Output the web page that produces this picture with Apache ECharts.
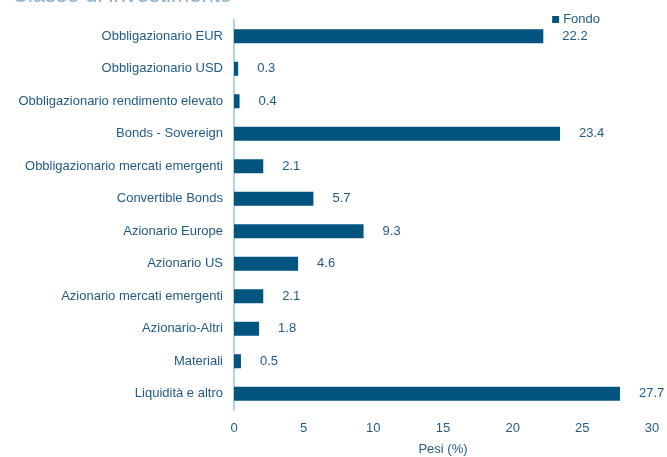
<!DOCTYPE html>
<html><head><meta charset="utf-8">
<script src="https://cdn.jsdelivr.net/npm/echarts@6/dist/echarts.min.js"></script>
<style>html,body{margin:0;padding:0;background:#fff;}#c{width:667px;height:457px;}</style>
</head><body><div id="c"></div>
<script>
const categories = ["Obbligazionario EUR","Obbligazionario USD","Obbligazionario rendimento elevato","Bonds - Sovereign","Obbligazionario mercati emergenti","Convertible Bonds","Azionario Europe","Azionario US","Azionario mercati emergenti","Azionario-Altri","Materiali","Liquidità e altro"];
const fondo = [22.2,0.3,0.4,23.4,2.1,5.7,9.3,4.6,2.1,1.8,0.5,27.7];
const seriesName = "Fondo";
const xTicks = [0,5,10,15,20,25,30];

const txt = '#1f5a87';
const font = 'Liberation Sans, Arial, sans-serif';
const chart = echarts.init(document.getElementById('c'));
chart.setOption({
  animation:false,
  title:{text:'Classe di investimento',left:12,top:-15,padding:0,textStyle:{fontFamily:font,fontSize:22,fontWeight:'normal',color:'#8fb2cc'}},
  legend:{data:[seriesName],right:62,top:8,itemWidth:7,itemHeight:7,itemGap:4,icon:'rect',
    textStyle:{fontFamily:font,fontSize:13,color:txt,padding:[0,0,0,-1]}},
  grid:{left:234,right:15,top:20,bottom:47,containLabel:false,outerBoundsMode:'none'},
  xAxis:{type:'value',min:xTicks[0],max:xTicks[xTicks.length-1],interval:5,
    name:'Pesi (%)',nameLocation:'middle',nameGap:33,
    nameTextStyle:{fontFamily:font,fontSize:13,color:txt},
    axisLine:{show:false},axisTick:{show:false},splitLine:{show:false},
    axisLabel:{fontFamily:font,fontSize:13,color:txt,margin:12}},
  yAxis:{type:'category',data:categories,inverse:true,
    axisLine:{show:true,lineStyle:{color:'#a9d9e6',width:2}},axisTick:{show:false},
    axisLabel:{fontFamily:font,fontSize:13,color:txt,margin:11}},
  series:[{name:seriesName,type:'bar',data:fondo,barWidth:14,
    itemStyle:{color:'#03557f'},
    label:{show:true,position:'right',distance:19,fontFamily:font,fontSize:13,color:txt,
      formatter:p=>p.value.toFixed(1)}}]
});
</script></body></html>
